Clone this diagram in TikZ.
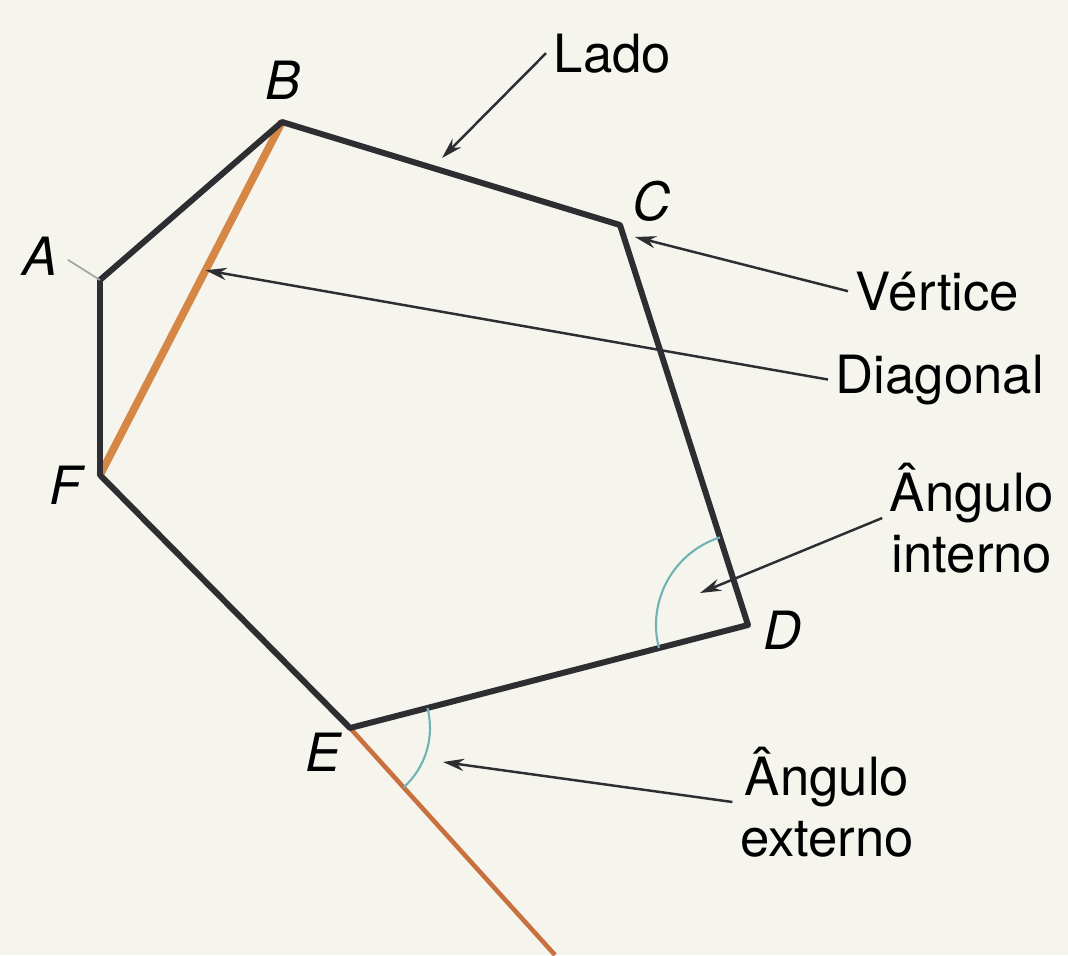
\documentclass[tikz,border=0pt]{standalone}
\usepackage{fontspec}
\setmainfont{TeX Gyre Heros}
\usetikzlibrary{arrows.meta,calc,angles}
\definecolor{paper}{RGB}{245,245,238}
\definecolor{edgegray}{RGB}{45,45,50}
\definecolor{diagorange}{RGB}{214,135,70}
\definecolor{extorange}{RGB}{200,112,62}
\definecolor{arcteal}{RGB}{110,180,180}
\tikzset{
  side/.style={edgegray,line width=1.7pt,line join=round},
  ptr/.style={edgegray,line width=0.7pt,-{Stealth[length=6pt,width=3.5pt]}},
  vlab/.style={font=\fontsize{15}{17.5}\selectfont\itshape,inner sep=1pt},
  tlab/.style={font=\fontsize{15}{17.5}\selectfont,align=center,inner sep=2pt},
  anglearc/.style={draw=arcteal,line width=0.6pt},
}

\begin{document}
\begin{tikzpicture}
  \fill[paper] (0,0) rectangle (10.68,-9.55);
  \useasboundingbox (0,0) rectangle (10.68,-9.55);
  % vertices of the hexagon
  \coordinate (A) at (1.00,-2.80);
  \coordinate (B) at (2.82,-1.22);
  \coordinate (C) at (6.20,-2.25);
  \coordinate (D) at (7.48,-6.25);
  \coordinate (E) at (3.50,-7.28);
  \coordinate (F) at (1.00,-4.75);
  \coordinate (G) at (5.55,-9.55);
  % diagonal and extended side
  \draw[diagorange,line width=2.2pt] (B) -- (F);
  \draw[extorange,line width=1.3pt] (E) -- (G);
  \draw[side] (A) -- (B) -- (C) -- (D) -- (E) -- (F) -- cycle;
  % angles
  \pic[anglearc,angle radius=0.92cm] {angle=C--D--E};
  \pic[anglearc,angle radius=0.80cm] {angle=G--E--D};
  % vertex names
  \node[vlab] (lA) at (0.40,-2.56) {A};
  \node[vlab] (lB) at (2.83,-0.80) {B};
  \node[vlab] (lC) at (6.52,-2.01) {C};
  \node[vlab] (lD) at (7.83,-6.30) {D};
  \node[vlab] (lE) at (3.23,-7.52) {E};
  \node[vlab] (lF) at (0.66,-4.85) {F};
  \draw[gray!70,line width=0.5pt,shorten <=2pt] (lA.east) -- (A);
  % pointers
  \coordinate (pL) at (4.42,-1.58);
  \coordinate (pV) at (6.35,-2.37);
  \coordinate (pDg) at ($(B)!0.42!(F)$);
  \coordinate (pI) at (7.00,-5.93);
  \coordinate (pX) at (4.43,-7.62);
  \node[tlab,anchor=base west] (lado) at (5.46,-0.72) {Lado};
  \node[tlab,anchor=base west] (vert) at (8.48,-3.10) {Vértice};
  \node[tlab,anchor=base west] (diagl) at (8.28,-3.93) {Diagonal};
  \node[tlab] (intl) at (9.72,-5.18) {Ângulo\\interno};
  \node[tlab] (extl) at (8.27,-8.02) {Ângulo\\externo};
  \draw[ptr] (lado.west) -- (pL);
  \draw[ptr] (vert.west) -- (pV);
  \draw[ptr] (diagl.west) -- (pDg);
  \draw[ptr] (intl.west) -- (pI);
  \draw[ptr] (extl.west) -- (pX);
\end{tikzpicture}
\end{document}
